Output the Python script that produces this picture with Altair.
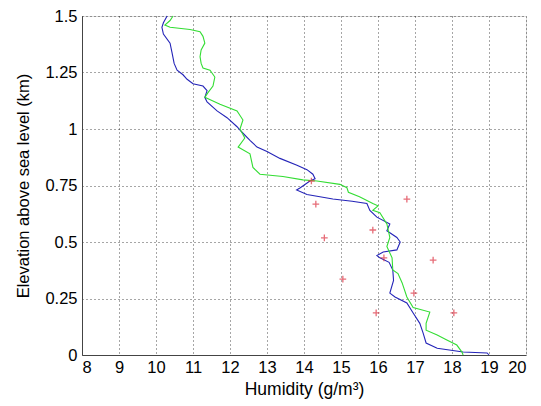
import altair as alt
import pandas as pd

# Blue profile (humidity g/m^3, elevation km), top to bottom
blue_h = [10.3, 10.2, 10.16, 10.2, 10.38, 10.43, 10.49, 10.57, 10.73, 10.84, 11.0, 11.27, 11.38, 11.32,
          11.38, 11.65, 11.92, 12.19, 12.3, 12.54, 12.73, 13.0, 13.35, 13.81, 14.08, 14.24, 14.3, 14.16,
          13.9, 13.8, 14.08, 14.78, 15.3, 15.7, 15.78, 15.97, 16.32, 16.24, 16.51, 16.6, 16.51, 16.14,
          15.97, 16.05, 16.3, 16.4, 16.42, 16.32, 16.46, 16.78, 16.95, 17.13, 17.22, 17.3, 17.6, 18.3,
          18.95, 19.0]
blue_e = [1.5, 1.47, 1.45, 1.42, 1.38, 1.34, 1.29, 1.26, 1.24, 1.22, 1.20, 1.19, 1.17, 1.14,
          1.12, 1.08, 1.05, 1.01, 0.99, 0.95, 0.92, 0.90, 0.87, 0.84, 0.82, 0.80, 0.78, 0.77,
          0.74, 0.73, 0.71, 0.69, 0.68, 0.67, 0.64, 0.61, 0.58, 0.55, 0.52, 0.50, 0.465, 0.456,
          0.44, 0.43, 0.41, 0.376, 0.33, 0.274, 0.257, 0.23, 0.186, 0.14, 0.097, 0.053, 0.03, 0.013,
          0.009, 0.0]

# Green profile
green_h = [10.46, 10.38, 10.24, 10.38, 10.92, 11.19, 11.27, 11.32, 11.22, 11.19, 11.22, 11.27, 11.46,
           11.59, 11.54, 11.4, 11.32, 11.73, 12.19, 12.35, 12.27, 12.4, 12.22, 12.54, 12.62, 12.81,
           13.43, 13.97, 14.35, 14.97, 15.16, 15.2, 15.5, 15.86, 16.0, 15.86, 16.05, 16.24, 16.32,
           16.24, 16.38, 16.4, 16.54, 16.65, 16.78, 16.95, 17.4, 17.3, 17.3, 17.6, 17.86, 18.13,
           18.27, 18.3]
green_e = [1.5, 1.48, 1.46, 1.45, 1.44, 1.43, 1.41, 1.38, 1.35, 1.32, 1.29, 1.27, 1.26,
           1.23, 1.19, 1.16, 1.14, 1.11, 1.08, 1.04, 1.0, 0.96, 0.92, 0.89, 0.83, 0.80,
           0.79, 0.775, 0.77, 0.755, 0.74, 0.72, 0.70, 0.67, 0.66, 0.64, 0.63, 0.58, 0.52,
           0.48, 0.43, 0.376, 0.36, 0.32, 0.257, 0.21, 0.19, 0.14, 0.11, 0.088, 0.066, 0.044,
           0.013, 0.0]

# Red point observations
pts_h = [14.32, 14.2, 14.55, 15.05, 15.86, 16.78, 16.16, 17.49, 16.97, 15.95, 18.05]
pts_e = [0.668, 0.77, 0.518, 0.336, 0.553, 0.69, 0.43, 0.42, 0.274, 0.186, 0.186]

x_ticks = list(range(8, 21))
y_ticks = [0, 0.25, 0.5, 0.75, 1, 1.25, 1.5]

blue_df = pd.DataFrame({"h": blue_h, "e": blue_e, "i": range(len(blue_h))})
green_df = pd.DataFrame({"h": green_h, "e": green_e, "i": range(len(green_h))})
pts_df = pd.DataFrame({"h": pts_h, "e": pts_e})

FONT = "Liberation Sans"

xscale = alt.Scale(domain=[8, 20], nice=False, zero=False)
yscale = alt.Scale(domain=[0, 1.5], nice=False, zero=False)

common = dict(grid=True, gridDash=[1, 3], gridColor="#000000", gridOpacity=0.7, ticks=False,
              labelOverlap=False, labelFontSize=16.5, labelFont=FONT,
              titleFont=FONT, titleFontWeight="normal", labelColor="black", titleColor="black",
              domainColor="#444444", labelExpr="toString(datum.value)", tickCount=30)

xaxis = alt.Axis(values=x_ticks, title="Humidity (g/m³)", labelPadding=4, titlePadding=5,
                 titleFontSize=17.5, **common)
yaxis = alt.Axis(values=y_ticks, title="Elevation above sea level (km)", labelPadding=5,
                 titlePadding=13, titleFontSize=16.5, **common)

blue = alt.Chart(blue_df).mark_line(color="#2424b8", strokeWidth=1.1).encode(
    x=alt.X("h:Q", scale=xscale, axis=xaxis),
    y=alt.Y("e:Q", scale=yscale, axis=yaxis),
    order="i:Q",
)
green = alt.Chart(green_df).mark_line(color="#33dd33", strokeWidth=1.1).encode(
    x=alt.X("h:Q", scale=xscale),
    y=alt.Y("e:Q", scale=yscale),
    order="i:Q",
)
pts = alt.Chart(pts_df).mark_point(
    shape="M-1,0L1,0M0,-1L0,1", filled=False, color="#dd3040", strokeWidth=1.3, size=45
).encode(
    x=alt.X("h:Q", scale=xscale),
    y=alt.Y("e:Q", scale=yscale),
)

chart = alt.layer(blue, green, pts).properties(
    width=444, height=339,
    autosize=alt.AutoSizeParams(type="none"),
    padding={"left": 74, "top": 8, "right": 7, "bottom": 48},
).configure_view(stroke="#444444", strokeWidth=1).configure(background="white")

chart.save("out.html", embed_options={"renderer": "svg", "actions": False})
